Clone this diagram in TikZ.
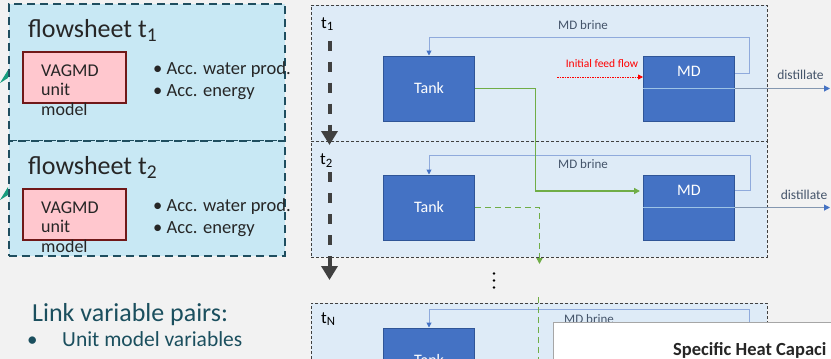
\documentclass[tikz,border=0pt]{standalone}
\usepackage{fontspec}
\setmainfont{Carlito}
\usetikzlibrary{arrows.meta,positioning,calc}
\definecolor{bg}{HTML}{F2F2F2}
\definecolor{fsfill}{HTML}{C8E8F4}
\definecolor{fsline}{HTML}{1F4E5F}
\definecolor{unitfill}{HTML}{FFC7CE}
\definecolor{unitline}{HTML}{701818}
\definecolor{txtdark}{HTML}{262626}
\definecolor{tbfill}{HTML}{DEEBF7}
\definecolor{tbline}{HTML}{404040}
\definecolor{blockfill}{HTML}{4472C4}
\definecolor{blockline}{HTML}{2F5597}
\definecolor{brinecol}{HTML}{8FAADC}
\definecolor{brinetxt}{HTML}{44546A}
\definecolor{mdline}{HTML}{9DC3E6}
\definecolor{distcol}{HTML}{8497B0}
\definecolor{greencol}{HTML}{70AD47}
\definecolor{linkcol}{HTML}{1B4F5E}
\definecolor{tealcol}{HTML}{179C7D}
\newcommand{\tidx}[2]{#1\raisebox{-0.35ex}{\scalebox{0.75}{#2}}}
\newcommand{\fsz}[2]{\fontsize{#1}{#2}\selectfont}

\begin{document}
\begin{tikzpicture}[x=1pt,y=-1pt,>=Stealth,
		fsbox/.style={draw=fsline,fill=fsfill,line width=1.6pt,dash pattern=on 8pt off 5pt,inner sep=0pt,anchor=north west,minimum width=276pt},
		unitbox/.style={draw=unitline,fill=unitfill,line width=1.6pt,inner sep=0pt,anchor=north west,minimum width=103pt,minimum height=51pt},
		fstitle/.style={anchor=base west,inner sep=0pt,text=txtdark,font=\fsz{26}{30}},
		unittxt/.style={anchor=north west,inner sep=0pt,align=left,text=txtdark,font=\fsz{18}{19.5}},
		acctxt/.style={anchor=north west,inner sep=0pt,align=left,text=txtdark,font=\fsz{18.5}{22}},
		tbox/.style={draw=tbline,fill=tbfill,line width=0.8pt,dash pattern=on 3pt off 2pt,inner sep=0pt,anchor=north west,minimum width=456pt},
		tlabel/.style={anchor=base west,inner sep=0pt,text=black,font=\fsz{17}{20}},
		block/.style={draw=blockline,fill=blockfill,line width=1pt,minimum width=91pt,minimum height=65pt,inner sep=0pt},
		blocktxt/.style={text=white,inner sep=0pt,font=\fsz{16}{19}},
		brine/.style={draw=brinecol,line width=1pt,-{Triangle[width=5pt,length=5pt,color=blockfill]}},
		brinelbl/.style={text=brinetxt,inner sep=0pt,font=\fsz{13}{15}},
		inner/.style={draw=mdline,line width=1.6pt},
		dist/.style={draw=distcol,line width=1pt,-{Triangle[width=6pt,length=6pt,color=blockfill]}},
		distlbl/.style={text=brinetxt,inner sep=0pt,font=\fsz{13.5}{16}},
		feed/.style={draw=red,line width=0.8pt,dash pattern=on 1.5pt off 1pt,-{Triangle[width=5pt,length=5pt]}},
		glink/.style={draw=greencol,line width=1.5pt,-{Triangle[width=6pt,length=6pt]}},
		gdash/.style={draw=greencol,line width=1.5pt,dash pattern=on 6pt off 4pt},
		timearrow/.style={draw=tbline,line width=4pt,dash pattern=on 10pt off 11pt,-{Triangle[width=16pt,length=14pt]}}]
	
	\useasboundingbox (0,0) rectangle (831,359);
	\clip (0,0) rectangle (831,359);
	\fill[bg] (0,0) rectangle (831,359);
	
	% flowsheets
	\node[fsbox,minimum height=137pt] (fs1) at (8,3) {};
	\node[fsbox,minimum height=115pt] (fs2) at (8,140) {};
	\fill[tealcol] (0,83) -- (8,70) -- (8,78) -- cycle;
	\fill[tealcol] (0,200) -- (8,187) -- (8,195) -- cycle;
	
	\node[fstitle] (fs1title) at (28,37) {flowsheet \tidx{t}{1}};
	\node[unitbox] (vag1) at (22,51) {};
	\node[unittxt] (vag1txt) at (41,64.5) {VAGMD\\unit\\model};
	\node[acctxt] (acc1) at (153,61.5) {\textbullet\ Acc. water prod.\\\textbullet\ Acc. energy};
	
	\node[fstitle] (fs2title) at (28,174) {flowsheet \tidx{t}{2}};
	\node[unitbox] (vag2) at (22,188) {};
	\node[unittxt] (vag2txt) at (41,201.5) {VAGMD\\unit\\model};
	\node[acctxt] (acc2) at (153,198.5) {\textbullet\ Acc. water prod.\\\textbullet\ Acc. energy};
	
	\node[anchor=base west,inner sep=0pt,text=linkcol,font=\fsz{26}{30}] (link) at (32,321) {Link variable pairs:};
	\node[anchor=base west,inner sep=0pt,text=linkcol,font=\fsz{21}{24}] (bul1) at (27,346.7) {\textbullet};
	\node[anchor=base west,inner sep=0pt,text=linkcol,font=\fsz{21.5}{24}] (var1) at (62,346.7) {Unit model variables};
	
	% time boxes
	\node[tbox,minimum height=136pt] (tb1) at (311,5) {};
	\node[tbox,minimum height=116pt] (tb2) at (311,141) {};
	\node[tbox,minimum height=120pt] (tbN) at (311,303) {};
	
	\node[tlabel] (t1) at (321,28) {\tidx{t}{1}};
	\node[tlabel] (t2) at (320,164.5) {\tidx{t}{2}};
	\node[tlabel] (tN) at (321,323) {\tidx{t}{N}};
	
	\coordinate (ta1) at (329.5,40.6);
	\coordinate (tz1) at (329.5,145);
	\coordinate (ta2) at (329.5,172);
	\coordinate (tz2) at (329.5,280);
	\draw[timearrow] (ta1) -- (tz1);
	\draw[timearrow] (ta2) -- (tz2);
	
	% t1
	\node[block] (tank1) at (429,88.5) {};
	\node[blocktxt] at (tank1) {Tank};
	\node[block] (md1) at (689,88.5) {};
	\node[blocktxt] (md1lbl) at ([yshift=-16pt]md1.north) {MD};
	\draw[inner] (md1.west) -- (md1.east);
	\coordinate (dist1) at (830,88.5);
	\draw[dist] (md1.east) -- (dist1);
	\node[distlbl] (dist1lbl) at (800.5,75) {distillate};
	\draw[brine] ([yshift=-18pt]md1.north east) -| ++(14,-36) -| (tank1.north);
	\node[brinelbl] (brine1) at (583,25.4) {MD brine};
	\coordinate (feed) at (557,77);
	\draw[feed] (feed) -- (feed -| md1.west);
	\node[text=red,inner sep=0pt,font=\fsz{11.5}{14}] (feedlbl) at (602,64) {Initial feed flow};
	
	% t2
	\node[block] (tank2) at (429,207.5) {};
	\node[blocktxt] at (tank2) {Tank};
	\node[block] (md2) at (689,207.5) {};
	\node[blocktxt] (md2lbl) at ([yshift=-16pt]md2.north) {MD};
	\draw[inner] (md2.west) -- (md2.east);
	\coordinate (dist2) at (830,207.5);
	\draw[dist] (md2.east) -- (dist2);
	\node[distlbl] (dist2lbl) at (804,195) {distillate};
	\draw[brine] ([yshift=-16pt]md2.north east) -| ++(15,-35) -| (tank2.north);
	\node[brinelbl] (brine2) at (583,164) {MD brine};
	
	\coordinate (gturn) at (535.5,191);
	\draw[glink] (tank1.east) -| (gturn) -- ([xshift=-3pt]gturn -| md2.west);
	\coordinate (gdown) at (539.5,264);
	\draw[glink,dash pattern=on 6pt off 4pt] (tank2.east) -| (gdown);
	
	% dots
	\foreach \y in {273.5,280.5,287.5}
	\fill (494,\y) circle (1.3pt);
	
	% tN
	\node[block] (tankN) at (429,360.5) {};
	\node[blocktxt] at (tankN) {Tank};
	\coordinate (brN) at (749,350);
	\draw[brine] (brN) |- ($(tankN.north)+(0,-18)$) -- (tankN.north);
	\node[brinelbl] (brineN) at (589,319) {MD brine};
	\coordinate (gtop) at (538.5,297);
	\coordinate (gbot) at (538.5,370);
	\draw[gdash] (gtop) -- (gbot);
	
	% chart
	\node[draw=gray!70,fill=white,line width=0.8pt,anchor=north west,minimum width=300pt,minimum height=60pt] (chart) at (553,322) {};
	\node[anchor=base west,inner sep=0pt,text=txtdark,font=\bfseries\fsz{18.5}{22}] (charttitle) at (673,355) {Specific Heat Capaci};
\end{tikzpicture}
\end{document}
